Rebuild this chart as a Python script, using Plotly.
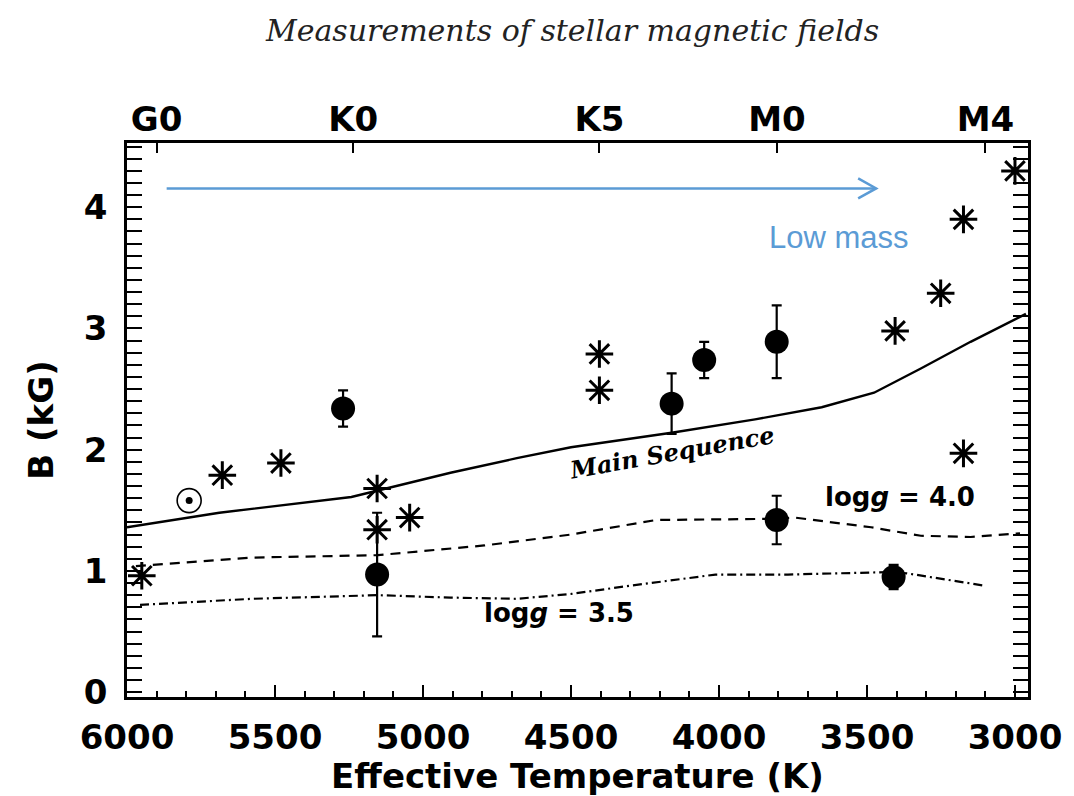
import plotly.graph_objects as go

# Stars measured by Zeeman broadening (asterisks)
star_teff = [5950, 5678, 5480, 5155, 5155, 5045, 4404, 4404, 3405, 3251, 3174, 3174, 3000]
star_b = [0.96, 1.79, 1.89, 1.68, 1.34, 1.44, 2.79, 2.49, 2.98, 3.29, 3.90, 1.97, 4.30]

# Stars with quoted uncertainties (filled circles)
circ_teff = [5270, 5155, 4160, 4050, 3805, 3805, 3410]
circ_b = [2.34, 0.97, 2.38, 2.74, 2.89, 1.42, 0.95]
circ_err = [0.15, 0.51, 0.25, 0.15, 0.30, 0.20, 0.10]

# The Sun
sun_teff = [5790]
sun_b = [1.58]

# Equipartition field strength curves
ms_teff = [6000, 5688, 5242, 5128, 4907, 4683, 4500, 4160, 3878, 3653, 3476, 3318, 3150, 2963]
ms_b = [1.36, 1.48, 1.61, 1.68, 1.81, 1.93, 2.02, 2.14, 2.25, 2.35, 2.47, 2.67, 2.89, 3.12]

g40_teff = [5970, 5578, 5152, 4793, 4500, 4213, 3811, 3744, 3486, 3318, 3150, 2983]
g40_b = [1.04, 1.11, 1.13, 1.21, 1.30, 1.42, 1.43, 1.44, 1.36, 1.29, 1.28, 1.31]

g35_teff = [5956, 5578, 5152, 4907, 4683, 4500, 4324, 4012, 3767, 3432, 3365, 3107]
g35_b = [0.72, 0.77, 0.80, 0.78, 0.77, 0.81, 0.87, 0.97, 0.97, 0.99, 0.98, 0.88]

# Spectral types along the top axis
spt_labels = ["G0", "K0", "K5", "M0", "M4"]
spt_teff = [5900, 5236, 4404, 3804, 3100]

x_range = [6000, 2956]
y_range = [-0.04, 4.53]

BLUE = "#5B9BD5"
bold = dict(family="DejaVu Sans", size=34, color="black", weight="bold")

fig = go.Figure()

fig.add_trace(go.Scatter(x=ms_teff, y=ms_b, mode="lines",
                         line=dict(color="black", width=2.4)))
fig.add_trace(go.Scatter(x=g40_teff, y=g40_b, mode="lines",
                         line=dict(color="black", width=2.2, dash="10px,7px")))
fig.add_trace(go.Scatter(x=g35_teff, y=g35_b, mode="lines",
                         line=dict(color="black", width=2.2, dash="9px,4px,2px,4px")))

fig.add_trace(go.Scatter(x=star_teff, y=star_b, mode="markers",
                         marker=dict(symbol="asterisk-open", size=23, color="black",
                                     line=dict(color="black", width=3))))
fig.add_trace(go.Scatter(x=circ_teff, y=circ_b, mode="markers",
                         marker=dict(symbol="circle", size=24, color="black"),
                         error_y=dict(type="data", array=circ_err, color="black",
                                      thickness=2.2, width=5)))
fig.add_trace(go.Scatter(x=sun_teff, y=sun_b, mode="markers",
                         marker=dict(symbol="circle-open", size=24, color="black",
                                     line=dict(color="black", width=1.6))))
fig.add_trace(go.Scatter(x=sun_teff, y=sun_b, mode="markers",
                         marker=dict(symbol="circle", size=7, color="black")))

# Invisible trace so the spectral-type axis is drawn
fig.add_trace(go.Scatter(x=spt_teff, y=[None] * len(spt_teff), xaxis="x2",
                         mode="markers", hoverinfo="skip"))

fig.update_layout(
    width=1074, height=796,
    margin=dict(l=127, r=39, t=143, b=99),
    paper_bgcolor="white", plot_bgcolor="white",
    showlegend=False,
    xaxis=dict(
        range=x_range, dtick=500, tick0=3000,
        ticks="inside", ticklen=12, tickwidth=2, tickcolor="black",
        showline=True, linewidth=2.5, linecolor="black", mirror=True,
        showgrid=False, zeroline=False,
        minor=dict(dtick=100, ticks="inside", ticklen=6, tickwidth=1.5,
                   tickcolor="black", showgrid=False),
        tickfont=bold, ticklabelstandoff=8,
        title=dict(text="Effective Temperature (K)", font=bold, standoff=4),
    ),
    xaxis2=dict(
        overlaying="x", side="top", anchor="y", range=x_range,
        tickmode="array", tickvals=spt_teff, ticktext=spt_labels,
        ticks="inside", ticklen=10, tickwidth=2, tickcolor="black",
        showline=False, showgrid=False, zeroline=False,
        tickfont=bold, ticklabelstandoff=4,
    ),
    yaxis=dict(
        range=y_range, dtick=1, tick0=0,
        ticks="inside", ticklen=15, tickwidth=2, tickcolor="black",
        showline=True, linewidth=2.5, linecolor="black", mirror="allticks",
        showgrid=False, zeroline=False,
        minor=dict(dtick=0.1, ticks="inside", ticklen=8, tickwidth=1.5,
                   tickcolor="black", showgrid=False),
        tickfont=bold, ticklabelstandoff=10,
        title=dict(text="B (kG)", font=bold, standoff=20),
    ),
)

# Arrow towards lower-mass stars
arrow_y = 4.155
fig.add_shape(type="line", xref="x", yref="y", x0=5866, x1=3469, y0=arrow_y, y1=arrow_y,
              line=dict(color=BLUE, width=2.5))
fig.add_shape(type="path", xref="x", yref="y", xsizemode="pixel", ysizemode="pixel",
              xanchor=3469, yanchor=arrow_y, path="M -18 -10 L 0 0 L -18 10",
              line=dict(color=BLUE, width=2.5))
fig.add_annotation(x=3593, y=3.75, xref="x", yref="y", text="Low mass", showarrow=False,
                   font=dict(family="Liberation Sans", size=31, color=BLUE))

# Curve labels
fig.add_annotation(x=4160, y=1.98, xref="x", yref="y", text="Main Sequence",
                   showarrow=False, textangle=-10,
                   font=dict(family="DejaVu Serif", size=24, color="black",
                             weight="bold", style="italic"))
fig.add_annotation(x=3389, y=1.61, xref="x", yref="y", text="log<i>g</i> = 4.0",
                   showarrow=False,
                   font=dict(family="DejaVu Sans", size=26, color="black", weight="bold"))
fig.add_annotation(x=4542, y=0.65, xref="x", yref="y", text="log<i>g</i> = 3.5",
                   showarrow=False,
                   font=dict(family="DejaVu Sans", size=26, color="black", weight="bold"))

# Heading
fig.add_annotation(x=(575 - 127) / 908, y=1 + (143 - 30) / 554, xref="paper", yref="paper",
                   text="Measurements of stellar magnetic fields", showarrow=False,
                   xanchor="center", yanchor="middle",
                   font=dict(family="DejaVu Serif", size=30, color="#222222", style="italic"))

fig.write_html("out.html")
